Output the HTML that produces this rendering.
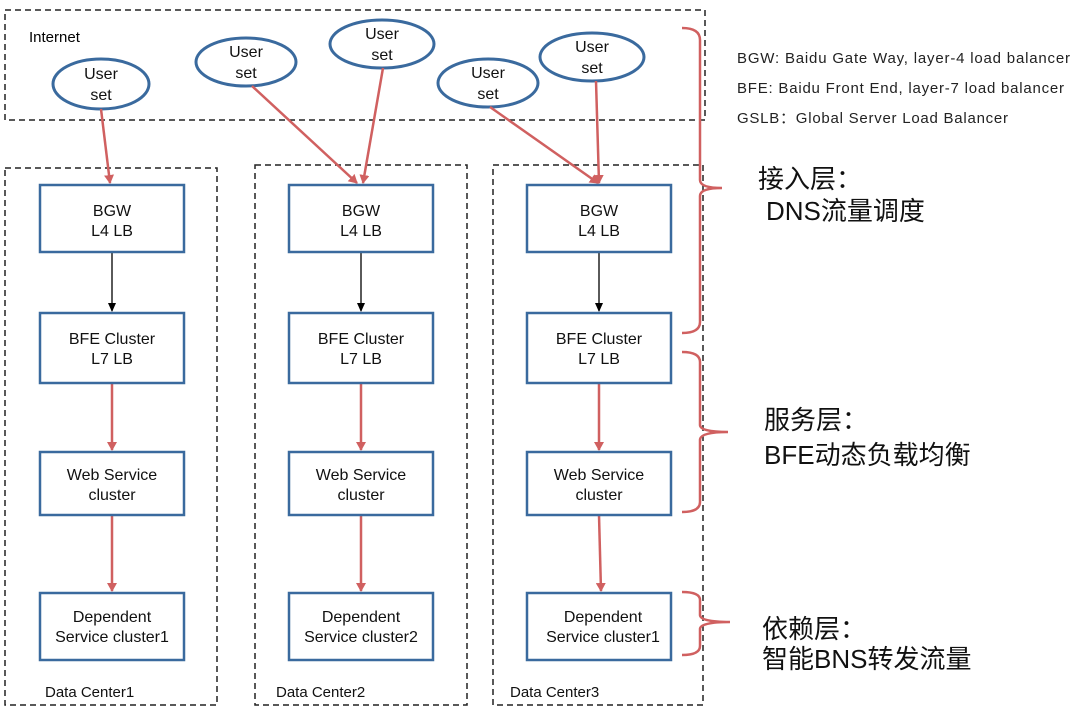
<!DOCTYPE html>
<html><head><meta charset="utf-8"><style>
body{margin:0;background:#fff}
svg{display:block}
text{font-family:"Liberation Sans","Noto Sans CJK SC",sans-serif}
</style></head><body>
<svg width="1080" height="708" viewBox="0 0 1080 708" xmlns="http://www.w3.org/2000/svg">
<defs>
<marker id="r" markerWidth="10" markerHeight="10" refX="8" refY="5" orient="auto" markerUnits="userSpaceOnUse"><path d="M0,0 L9,5 L0,10 z" fill="#d06060"/></marker>
<marker id="k" markerWidth="10" markerHeight="10" refX="8" refY="5" orient="auto" markerUnits="userSpaceOnUse"><path d="M0,1 L9,5 L0,9 z" fill="#000"/></marker>
</defs>
<g fill="none" stroke="#222" stroke-width="1.5" stroke-dasharray="6,4">
<rect x="5" y="10" width="700" height="110"/>
<rect x="5" y="168" width="212" height="537"/>
<rect x="255" y="165" width="212" height="540"/>
<rect x="493" y="165" width="210" height="540"/>
</g>
<text x="29" y="42" font-size="15">Internet</text>
<g fill="#fff" stroke="#3a6a9e" stroke-width="3">
<ellipse cx="101" cy="84" rx="48" ry="25"/>
<ellipse cx="246" cy="62" rx="50" ry="24"/>
<ellipse cx="382" cy="44" rx="52" ry="24"/>
<ellipse cx="488" cy="83" rx="50" ry="24"/>
<ellipse cx="592" cy="57" rx="52" ry="24"/>
</g>
<g font-size="16" text-anchor="middle" fill="#111">
<text x="101" y="79">User</text><text x="101" y="100">set</text>
<text x="246" y="57">User</text><text x="246" y="78">set</text>
<text x="382" y="39">User</text><text x="382" y="60">set</text>
<text x="488" y="78">User</text><text x="488" y="99">set</text>
<text x="592" y="52">User</text><text x="592" y="73">set</text>
</g>
<g stroke="#d06060" stroke-width="2.5" marker-end="url(#r)">
<line x1="101" y1="109" x2="110" y2="183"/>
<line x1="252" y1="86" x2="357" y2="183"/>
<line x1="383" y1="68" x2="363" y2="183"/>
<line x1="490" y1="107" x2="598" y2="183"/>
<line x1="596" y1="81" x2="599" y2="183"/>
<line x1="112" y1="383" x2="112" y2="450"/>
<line x1="112" y1="515" x2="112" y2="591"/>
<line x1="361" y1="383" x2="361" y2="450"/>
<line x1="361" y1="515" x2="361" y2="591"/>
<line x1="599" y1="383" x2="599" y2="450"/>
<line x1="599" y1="515" x2="601" y2="591"/>
</g>
<g stroke="#000" stroke-width="1.3" marker-end="url(#k)">
<line x1="112" y1="252" x2="112" y2="311"/>
<line x1="361" y1="252" x2="361" y2="311"/>
<line x1="599" y1="252" x2="599" y2="311"/>
</g>
<g fill="#fff" stroke="#3a6a9e" stroke-width="2.5">
<rect x="40" y="185" width="144" height="67"/><rect x="40" y="313" width="144" height="70"/><rect x="40" y="452" width="144" height="63"/><rect x="40" y="593" width="144" height="67"/>
<rect x="289" y="185" width="144" height="67"/><rect x="289" y="313" width="144" height="70"/><rect x="289" y="452" width="144" height="63"/><rect x="289" y="593" width="144" height="67"/>
<rect x="527" y="185" width="144" height="67"/><rect x="527" y="313" width="144" height="70"/><rect x="527" y="452" width="144" height="63"/><rect x="527" y="593" width="144" height="67"/>
</g>
<g font-size="16" text-anchor="middle" fill="#111">
<text x="112" y="216">BGW</text><text x="112" y="236">L4 LB</text>
<text x="112" y="344">BFE Cluster</text><text x="112" y="364">L7 LB</text>
<text x="112" y="480">Web Service</text><text x="112" y="500">cluster</text>
<text x="112" y="622">Dependent</text><text x="112" y="642">Service cluster1</text>
<text x="361" y="216">BGW</text><text x="361" y="236">L4 LB</text>
<text x="361" y="344">BFE Cluster</text><text x="361" y="364">L7 LB</text>
<text x="361" y="480">Web Service</text><text x="361" y="500">cluster</text>
<text x="361" y="622">Dependent</text><text x="361" y="642">Service cluster2</text>
<text x="599" y="216">BGW</text><text x="599" y="236">L4 LB</text>
<text x="599" y="344">BFE Cluster</text><text x="599" y="364">L7 LB</text>
<text x="599" y="480">Web Service</text><text x="599" y="500">cluster</text>
<text x="603" y="622">Dependent</text><text x="603" y="642">Service cluster1</text>
</g>
<g font-size="15" fill="#111">
<text x="45" y="697">Data Center1</text>
<text x="276" y="697">Data Center2</text>
<text x="510" y="697">Data Center3</text>
</g>
<g fill="none" stroke="#d06060" stroke-width="2.5">
<path d="M682,28 Q700,28 700,40 L700,180 Q700,188 722,188 Q700,188 700,196 L700,322 Q700,333 682,333"/>
<path d="M682,352 Q700,352 700,362 L700,425 Q700,432 728,432 Q700,432 700,440 L700,502 Q700,512 682,512"/>
<path d="M682,592 Q700,592 700,600 L700,615 Q700,622 730,622 Q700,622 700,629 L700,646 Q700,655 682,655"/>
</g>
<g font-size="15" fill="#222">
<text x="737" y="63" textLength="333">BGW: Baidu Gate Way, layer-4 load balancer</text>
<text x="737" y="93" textLength="327">BFE: Baidu Front End, layer-7 load balancer</text>
<text x="737" y="123" textLength="271">GSLB：Global Server Load Balancer</text>
</g>
<g font-size="26" fill="#111">
<text x="758" y="188">接入层：</text>
<text x="766" y="220">DNS流量调度</text>
<text x="764" y="429">服务层：</text>
<text x="764" y="464">BFE动态负载均衡</text>
<text x="762" y="638">依赖层：</text>
<text x="762" y="668">智能BNS转发流量</text>
</g>
</svg>
</body></html>
